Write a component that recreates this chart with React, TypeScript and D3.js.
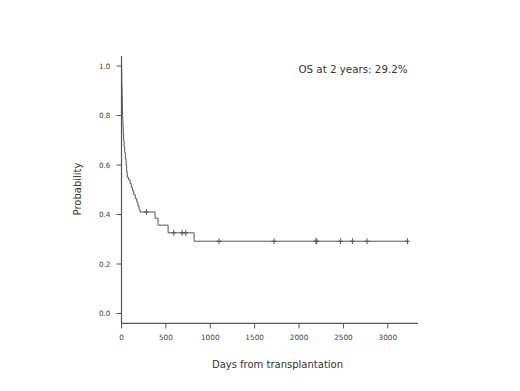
import React from "react";
import * as d3 from "d3";

const stepTimes = [0, 2, 3, 4, 6, 7, 9, 10, 12, 14, 17, 20, 24, 29, 36, 44, 52, 58, 64, 80, 97, 110, 125, 138, 155, 172, 185, 198, 209, 378, 412, 525, 818];
const stepSurv = [1.0, 0.975, 0.95, 0.925, 0.9, 0.875, 0.85, 0.825, 0.8, 0.775, 0.75, 0.725, 0.7, 0.675, 0.65, 0.625, 0.6, 0.575, 0.55, 0.54, 0.525, 0.51, 0.495, 0.48, 0.465, 0.45, 0.435, 0.42, 0.41, 0.385, 0.357, 0.326, 0.292];
const lastTime = 3221;
const censorTimes = [281, 589, 683, 724, 1099, 1718, 2190, 2200, 2466, 2601, 2766, 3221];
const censorSurv = [0.41, 0.326, 0.326, 0.326, 0.292, 0.292, 0.292, 0.292, 0.292, 0.292, 0.292, 0.292];
const xTicks = [0, 500, 1000, 1500, 2000, 2500, 3000];
const yTicks = [0.0, 0.2, 0.4, 0.6, 0.8, 1.0];
const annotation = "OS at 2 years: 29.2%";
const xLabel = "Days from transplantation";
const yLabel = "Probability";

export default function App() {
  const W = 520, H = 391;
  const x = d3.scaleLinear().domain([0, 3340]).range([121.5, 418]);
  const y = d3.scaleLinear().domain([0, 1]).range([313.5, 66]);
  const col = "#555";
  const font = "DejaVu Sans, Verdana, sans-serif";

  const pts: [number, number][] = stepTimes.map((t, i) => [t, stepSurv[i]]);
  pts.push([lastTime, stepSurv[stepSurv.length - 1]]);
  const line = d3.line<[number, number]>()
    .x(d => x(d[0]))
    .y(d => y(d[1]))
    .curve(d3.curveStepAfter);

  const yTop = y(1.04), yBot = y(-0.04);

  return (
    <svg width={W} height={H} style={{ position: "absolute", left: 0, top: 0, background: "#fff" }}>
      <rect x={0} y={0} width={W} height={H} fill="#fff" />
      <line x1={x(0)} x2={x(0)} y1={yTop} y2={yBot} stroke={col} strokeWidth={1.2} />
      <line x1={x(0)} x2={x(3340)} y1={yBot} y2={yBot} stroke={col} strokeWidth={1.2} />
      {yTicks.map(t => (
        <g key={"y" + t}>
          <line x1={x(0) - 5} x2={x(0)} y1={y(t)} y2={y(t)} stroke={col} strokeWidth={1} />
          <text x={x(0) - 11} y={y(t)} dy="0.35em" textAnchor="end" fontSize={7.3} fill="#444" fontFamily={font}>{t.toFixed(1)}</text>
        </g>
      ))}
      {xTicks.map(t => (
        <g key={"x" + t}>
          <line x1={x(t)} x2={x(t)} y1={yBot} y2={yBot + 5} stroke={col} strokeWidth={1} />
          <text x={x(t)} y={337} dy="0.35em" textAnchor="middle" fontSize={7.3} fill="#444" fontFamily={font}>{t}</text>
        </g>
      ))}
      <path d={line(pts) || ""} fill="none" stroke={col} strokeWidth={1} />
      {censorTimes.map((t, i) => (
        <g key={"c" + i}>
          <line x1={x(t)} x2={x(t)} y1={y(censorSurv[i]) - 3} y2={y(censorSurv[i]) + 3} stroke={col} strokeWidth={1} />
          <line x1={x(t) - 2.5} x2={x(t) + 2.5} y1={y(censorSurv[i])} y2={y(censorSurv[i])} stroke={col} strokeWidth={1} />
        </g>
      ))}
      <text x={353} y={69} dy="0.35em" textAnchor="middle" fontSize={10.3} fill="#333" fontFamily={font}>{annotation}</text>
      <text x={277.5} y={364} dy="0.35em" textAnchor="middle" fontSize={10} fill="#333" fontFamily={font}>{xLabel}</text>
      <text transform={`translate(77,189) rotate(-90)`} dy="0.35em" textAnchor="middle" fontSize={10} fill="#333" fontFamily={font}>{yLabel}</text>
    </svg>
  );
}
